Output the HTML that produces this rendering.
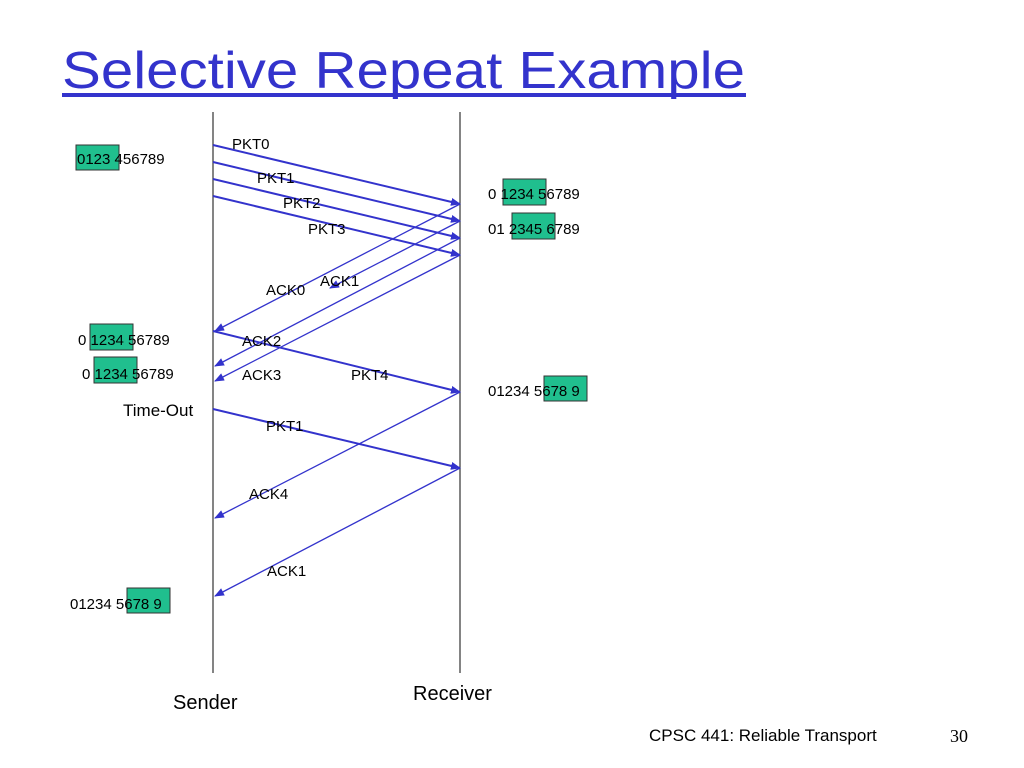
<!DOCTYPE html>
<html><head><meta charset="utf-8"><style>
html,body{margin:0;padding:0;background:#fff;}
svg{display:block;}
text{font-family:"Liberation Sans",sans-serif;}
</style></head><body>
<svg width="1024" height="768" viewBox="0 0 1024 768" xmlns="http://www.w3.org/2000/svg">
<defs>
<marker id="a" markerWidth="10" markerHeight="8" refX="9" refY="4" orient="auto" markerUnits="userSpaceOnUse"><path d="M0,0 L10,4 L0,8 z" fill="#3333cc"/></marker>
</defs>
<text x="62" y="88" font-size="52" fill="#3333cc" textLength="683" lengthAdjust="spacingAndGlyphs">Selective Repeat Example</text>
<rect x="62" y="93" width="684" height="4" fill="#3333cc"/>
<line x1="213" y1="112" x2="213" y2="673" stroke="#333" stroke-width="1.2"/>
<line x1="460" y1="112" x2="460" y2="673" stroke="#333" stroke-width="1.2"/>
<g fill="#20bf8e" stroke="#333" stroke-width="1">
<rect x="76" y="145" width="43" height="25"/>
<rect x="503" y="179" width="43" height="26"/>
<rect x="512" y="213" width="43" height="26"/>
<rect x="90" y="324" width="43" height="26"/>
<rect x="94" y="357" width="43" height="26"/>
<rect x="544" y="376" width="43" height="25"/>
<rect x="127" y="588" width="43" height="25"/>
</g>
<g stroke="#3333cc" fill="none" marker-end="url(#a)">
<g stroke-width="2">
<line x1="213" y1="145" x2="460" y2="204"/>
<line x1="213" y1="162" x2="460" y2="221"/>
<line x1="213" y1="179" x2="460" y2="238"/>
<line x1="213" y1="196" x2="460" y2="255"/>
<line x1="213" y1="331" x2="460" y2="392"/>
<line x1="213" y1="409" x2="460" y2="468"/>
</g>
<g stroke-width="1.3">
<line x1="460" y1="204" x2="215" y2="331"/>
<line x1="460" y1="221" x2="330" y2="288"/>
<line x1="460" y1="238" x2="215" y2="366"/>
<line x1="460" y1="255" x2="215" y2="381"/>
<line x1="460" y1="392" x2="215" y2="518"/>
<line x1="460" y1="468" x2="215" y2="596"/>
</g>
</g>
<g font-size="15" fill="#000">
<text x="232" y="149">PKT0</text>
<text x="257" y="183">PKT1</text>
<text x="283" y="208">PKT2</text>
<text x="308" y="234">PKT3</text>
<text x="266" y="295">ACK0</text>
<text x="320" y="286">ACK1</text>
<text x="242" y="346">ACK2</text>
<text x="242" y="380">ACK3</text>
<text x="351" y="380">PKT4</text>
<text x="266" y="431">PKT1</text>
<text x="249" y="499">ACK4</text>
<text x="267" y="576">ACK1</text>
<text x="77" y="164">0123 456789</text>
<text x="488" y="199">0 1234 56789</text>
<text x="488" y="234">01 2345 6789</text>
<text x="78" y="345">0 1234 56789</text>
<text x="82" y="379">0 1234 56789</text>
<text x="488" y="396">01234 5678 9</text>
<text x="70" y="609">01234 5678 9</text>
<text x="123" y="416" font-size="17">Time-Out</text>
</g>
<text x="173" y="709" font-size="20">Sender</text>
<text x="413" y="700" font-size="20">Receiver</text>
<text x="649" y="741" font-size="17">CPSC 441: Reliable Transport</text>
<text x="950" y="742" font-size="18" font-family="Liberation Serif,serif" style="font-family:'Liberation Serif',serif">30</text>
</svg>
</body></html>
